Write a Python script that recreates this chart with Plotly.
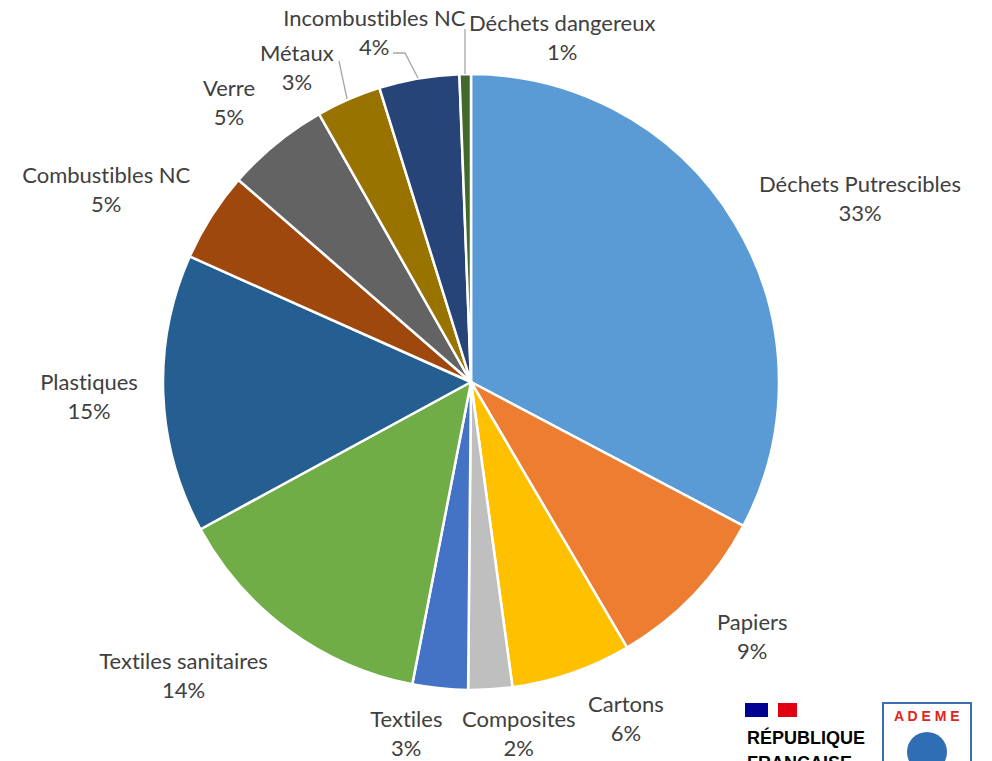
import plotly.graph_objects as go

W, H = 992, 761

categories = ["Déchets Putrescibles", "Papiers", "Cartons", "Composites", "Textiles",
              "Textiles sanitaires", "Plastiques", "Combustibles NC", "Verre", "Métaux",
              "Incombustibles NC", "Déchets dangereux"]
values = [32.7, 8.8, 6.3, 2.3, 2.9, 14.0, 14.6, 4.7, 5.4, 3.4, 4.2, 0.6]
colors = ["#5B9BD5", "#ED7D31", "#FFC000", "#BFBFBF", "#4472C4", "#70AD47",
          "#255E91", "#9E480E", "#636363", "#997300", "#264478", "#43682B"]

# label centre positions in pixels (layout only)
label_pos = [(860, 198), (752, 636), (626, 718), (519, 733), (406, 733), (183, 675),
             (89, 396), (106, 189), (229, 102), (297, 67), (374, 32), (562, 37)]

def px(x):
    return x / W

def py(y):
    return 1 - y / H

cx, cy, r = 471, 382, 308

fig = go.Figure(go.Pie(
    labels=categories, values=values, sort=False, direction="clockwise", rotation=0,
    marker=dict(colors=colors, line=dict(color="white", width=2.5)),
    textinfo="none", hoverinfo="label+percent",
    domain=dict(x=[px(cx - r), px(cx + r)], y=[py(cy + r), py(cy - r)]),
))

total = sum(values)
annotations = []
for cat, v, (lx, ly) in zip(categories, values, label_pos):
    pct = round(v / total * 100)
    annotations.append(dict(
        x=px(lx), y=py(ly), xref="paper", yref="paper", showarrow=False,
        text=f"{cat}<br>{pct}%", xanchor="center", yanchor="middle",
        font=dict(family="Lato, 'Open Sans', sans-serif", size=22, color="#404040"),
    ))

# logos (approximate)
annotations.append(dict(x=px(745), y=py(737), xref="paper", yref="paper", showarrow=False,
                        text="<b>RÉPUBLIQUE</b>", xanchor="left", yanchor="middle",
                        font=dict(family="Liberation Sans, Arial", size=18, color="#000000")))
annotations.append(dict(x=px(745), y=py(763), xref="paper", yref="paper", showarrow=False,
                        text="<b>FRANÇAISE</b>", xanchor="left", yanchor="middle",
                        font=dict(family="Liberation Sans, Arial", size=18, color="#000000")))
annotations.append(dict(x=px(927), y=py(716), xref="paper", yref="paper", showarrow=False,
                        text="<b>A D E M E</b>", xanchor="center", yanchor="middle",
                        font=dict(family="Liberation Sans, Arial", size=14, color="#E2231A")))

line_style = dict(color="#A6A6A6", width=1.3)
shapes = [
    dict(type="line", xref="paper", yref="paper", x0=px(465), y0=py(29), x1=px(465), y1=py(74), line=line_style),
    dict(type="path", xref="paper", yref="paper",
         path=f"M {px(393)},{py(53)} L {px(405)},{py(53)} L {px(418)},{py(78)}", line=line_style),
    dict(type="line", xref="paper", yref="paper", x0=px(339), y0=py(61), x1=px(347), y1=py(99), line=line_style),
    # flag
    dict(type="rect", xref="paper", yref="paper", x0=px(745), y0=py(703), x1=px(768), y1=py(717),
         fillcolor="#000091", line=dict(width=0)),
    dict(type="rect", xref="paper", yref="paper", x0=px(778), y0=py(703), x1=px(797), y1=py(717),
         fillcolor="#E1000F", line=dict(width=0)),
    # ADEME box
    dict(type="rect", xref="paper", yref="paper", x0=px(883), y0=py(703), x1=px(971), y1=py(775),
         fillcolor="white", line=dict(color="#3C6EB4", width=2)),
    dict(type="circle", xref="paper", yref="paper", x0=px(907), y0=py(732), x1=px(947), y1=py(772),
         fillcolor="#2F6DB5", line=dict(width=0)),
]

fig.update_layout(
    width=W, height=H, margin=dict(l=0, r=0, t=0, b=0),
    paper_bgcolor="white", plot_bgcolor="white", showlegend=False,
    annotations=annotations, shapes=shapes,
)

post = ("document.body.style.margin='0';document.body.style.overflow='hidden';"
        "var s=document.createElement('style');"
        "s.textContent='svg text{font-variant-ligatures:none !important;}';"
        "document.head.appendChild(s);")
fig.write_html("out.html", post_script=post, config={"displayModeBar": False})
